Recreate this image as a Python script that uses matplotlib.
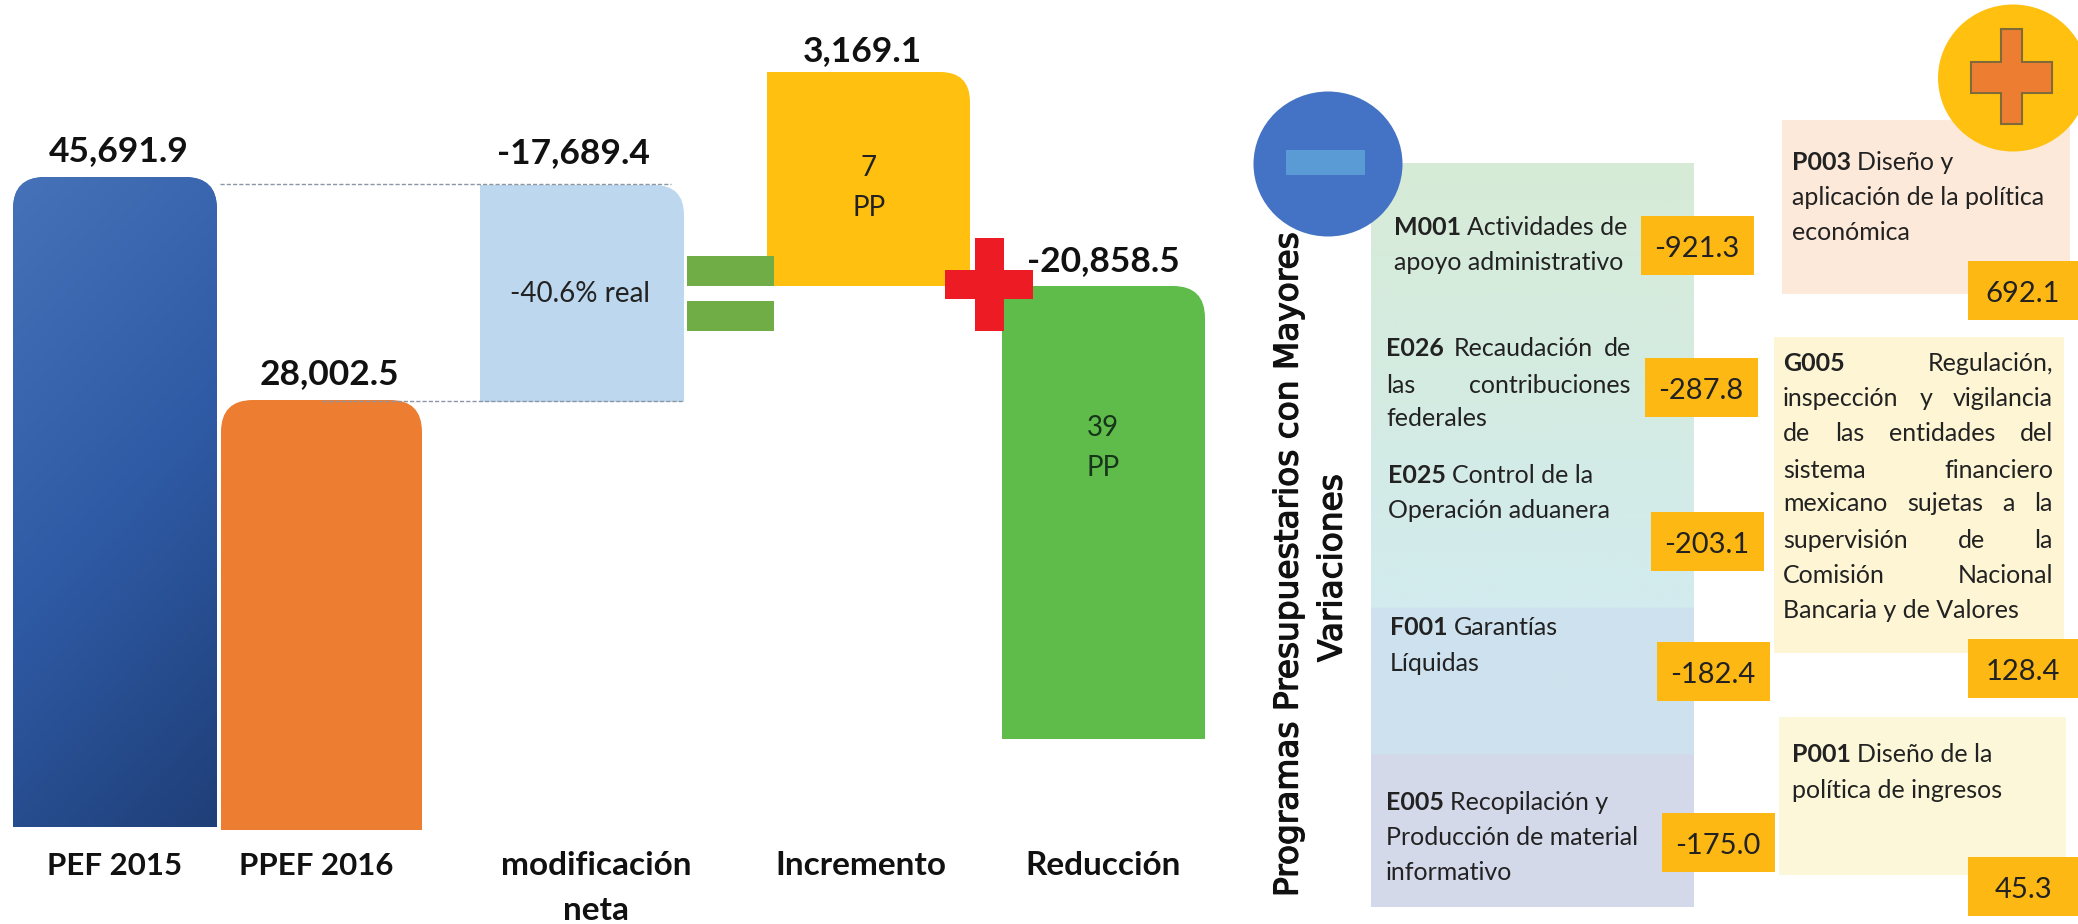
#!/usr/bin/env python3
"""Presupuesto PEF 2015 / PPEF 2016: barras y programas con mayores variaciones."""
import numpy as np
import matplotlib
matplotlib.use("Agg")
import matplotlib.patheffects as pe
import matplotlib.pyplot as plt
from matplotlib.colors import LinearSegmentedColormap
from matplotlib.patches import Ellipse, PathPatch, Rectangle
from matplotlib.path import Path

plt.rcParams["font.family"] = ["Lato", "DejaVu Sans"]

# barras (la altura no es proporcional al valor)
categorias = [["PEF 2015"], ["PPEF 2016"], ["modificación", "neta"], ["Incremento"], ["Reducción"]]
categoria_x = [115, 316, 596, 861, 1103]
categoria_pt = [22.5, 22.5, 24, 24, 24]
valores = ["45,691.9", "28,002.5", "-17,689.4", "3,169.1", "-20,858.5"]
valor_x = [119, 329, 573, 862, 1103]
valor_y = [161, 384, 163, 61, 271]
bar_izq = [13, 221, 480, 767, 1002]
bar_der = [217, 422, 684, 970, 1205]
bar_top = [177, 400, 185, 72, 286]
bar_base = [827, 830, 402, 286, 739]
bar_color = ["#3a66ae", "#ed7d31", "#bdd7ee", "#ffc010", "#5fbb4a"]
radio_izq = [32, 32, 0, 0, 0]
radio_der = [32, 32, 30, 30, 32]

# programas con reduccion
neg_lineas = [
    [[("M001", 1), ("Actividades de", 0)], [("apoyo administrativo", 0)]],
    [[("E026", 1), ("Recaudación", 0), ("de", 0)], [("las", 0), ("contribuciones", 0)], [("federales", 0)]],
    [[("E025", 1), ("Control de la", 0)], [("Operación aduanera", 0)]],
    [[("F001", 1), ("Garantías", 0)], [("Líquidas", 0)]],
    [[("E005", 1), ("Recopilación y", 0)], [("Producción de material", 0)], [("informativo", 0)]],
]
neg_x = [1394, 1386, 1388, 1390, 1386]
neg_y = [[235, 270], [356, 393, 426], [483, 518], [635, 671], [810, 845, 880]]
neg_just = [None, 1631, None, None, None]
neg_valores = ["-921.3", "-287.8", "-203.1", "-182.4", "-175.0"]
neg_caja_x = [1641, 1645, 1651, 1657, 1662]
neg_caja_y = [216, 358, 512, 642, 813]

# programas con aumento
pos_lineas = [
    [[("P003", 1), ("Diseño y", 0)], [("aplicación de la política", 0)], [("económica", 0)]],
    [[("G005", 1), ("Regulación,", 0)], [("inspección", 0), ("y", 0), ("vigilancia", 0)],
     [("de", 0), ("las", 0), ("entidades", 0), ("del", 0)], [("sistema", 0), ("financiero", 0)],
     [("mexicano", 0), ("sujetas", 0), ("a", 0), ("la", 0)], [("supervisión", 0), ("de", 0), ("la", 0)],
     [("Comisión", 0), ("Nacional", 0)], [("Bancaria y de Valores", 0)]],
    [[("P001", 1), ("Diseño de la", 0)], [("política de ingresos", 0)]],
]
pos_x = [1792, 1783, 1792]
pos_y = [[170, 205, 240], [371, 406, 441, 478, 511, 548, 583, 618], [762, 798]]
pos_just = [None, 2053, None]
pos_valores = ["692.1", "128.4", "45.3"]
pos_caja_y = [261, 639, 857]
pos_fondo = [(1782, 120, 2070, 294, "#fce9d9"), (1774, 337, 2064, 653, "#fdf5d3"), (1779, 717, 2066, 875, "#fbf7d8")]

NARANJA = "#fdb813"
TEXTO = "#222222"

fig = plt.figure(figsize=(20.78, 9.24), dpi=100)
ax = fig.add_axes([0, 0, 1, 1])
renderer = fig.canvas.get_renderer()


def fija_limites():
    # imshow cambia los limites, hay que volver a pixeles
    ax.set_xlim(0, 2078)
    ax.set_ylim(924, 0)


fija_limites()
ax.axis("off")


def barra(x0, x1, top, base, r0, r1, color, z=2):
    verts = [(x0, base), (x0, top + r0), (x0, top), (x0 + r0, top), (x1 - r1, top), (x1, top), (x1, top + r1),
             (x1, base), (x0, base)]
    codes = [Path.MOVETO, Path.LINETO, Path.CURVE3, Path.CURVE3, Path.LINETO, Path.CURVE3, Path.CURVE3,
             Path.LINETO, Path.CLOSEPOLY]
    p = PathPatch(Path(verts, codes), fc=color, ec="none", zorder=z)
    ax.add_patch(p)
    return p


def rect(x0, y0, x1, y1, color, z=3, ec="none", lw=0):
    ax.add_patch(Rectangle((x0, y0), x1 - x0, y1 - y0, fc=color, ec=ec, lw=lw, zorder=z))


def linea(runs, x, y, x_fin=None, size=18):
    """Escribe palabras con o sin negrita; si hay x_fin, justifica la linea."""
    textos = [ax.text(x, y, w, fontsize=size, fontweight="bold" if b else "normal", color=TEXTO,
                      va="baseline", ha="left", zorder=6) for w, b in runs]
    anchos = [t.get_window_extent(renderer).width for t in textos]
    if x_fin is not None and len(runs) > 1:
        gap = (x_fin - x - sum(anchos)) / (len(runs) - 1)
    else:
        gap = 6
    for t, w in zip(textos, anchos):
        t.set_x(x)
        x += w + gap


# barras
for i in range(5):
    p = barra(bar_izq[i], bar_der[i], bar_top[i], bar_base[i], radio_izq[i], radio_der[i], bar_color[i])
    if i == 0:
        grad = np.linspace(0, 1, 256)[:, None] * 0.75 + np.linspace(0, 1, 64)[None, :] * 0.25
        cmap = LinearSegmentedColormap.from_list("azul", ["#4572b8", "#2f5ba6", "#1f3f78"])
        im = ax.imshow(grad, cmap=cmap, extent=(bar_izq[0], bar_der[0], bar_base[0], bar_top[0]),
                       aspect="auto", zorder=2)
        im.set_clip_path(p)
    ax.text(valor_x[i], valor_y[i], valores[i], fontsize=25.5, fontweight="bold", color="#111111",
            ha="center", va="baseline", zorder=6)
    for j, t in enumerate(categorias[i]):
        ax.text(categoria_x[i], 875 + 45 * j, t, fontsize=categoria_pt[i], fontweight="bold", color="#111111",
                ha="center", va="baseline", zorder=6)
fija_limites()

# lineas punteadas entre barras
ax.plot([220, 671], [184, 184], ls=(0, (3, 1.5)), color="#8a96a5", lw=1, zorder=4)
ax.plot([322, 682], [401, 401], ls=(0, (3, 1.5)), color="#8a96a5", lw=1, zorder=4)

# textos dentro de las barras
ax.text(580, 302, "-40.6% real", fontsize=20, color=TEXTO, ha="center", va="baseline", zorder=6)
ax.text(869, 176, "7", fontsize=20, color=TEXTO, ha="center", va="baseline", zorder=6)
ax.text(869, 216, "PP", fontsize=20, color=TEXTO, ha="center", va="baseline", zorder=6)
ax.text(1103, 436, "39", fontsize=20, color="#17351a", ha="center", va="baseline", zorder=6)
ax.text(1103, 476, "PP", fontsize=20, color="#17351a", ha="center", va="baseline", zorder=6)

# signos igual y mas
rect(687, 256, 774, 286, "#70ad47", z=4)
rect(687, 301, 774, 331, "#70ad47", z=4)
rect(945, 270, 1033, 299, "#ed1c24", z=5)
rect(975, 238, 1004, 331, "#ed1c24", z=5)

# columna izquierda de programas
fondo = LinearSegmentedColormap.from_list("fondo", [
    (0, "#d7ebd6"), (0.597, "#d2ebee"), (0.597, "#cde1ee"), (0.795, "#cfe2ee"), (0.795, "#d4d9ea"), (1, "#d4d9ea")],
    N=512)
ax.imshow(np.linspace(0, 1, 512)[:, None], cmap=fondo, extent=(1371, 1694, 907, 163), aspect="auto", zorder=1)
fija_limites()

# circulos
ax.add_patch(Ellipse((1328, 164), 149, 145, fc="#4472c4", ec="none", zorder=5))
rect(1286, 150, 1365, 175, "#5b9bd5", z=6)
ax.add_patch(Ellipse((2013, 78), 150, 147, fc="#ffc010", ec="none", zorder=5))
rect(1971, 62, 2052, 93, "#ed7d31", z=6, ec="#7f6a3a", lw=1.5)
rect(2001, 29, 2022, 124, "#ed7d31", z=6, ec="#7f6a3a", lw=1.5)
rect(1972, 63, 2051, 92, "#ed7d31", z=6)

# titulo vertical
grueso = [pe.withStroke(linewidth=0.9, foreground="#111111")]
ax.text(1288, 897, "Programas Presupuestarios con Mayores", fontsize=23.6, family="DejaVu Sans", color="#111111",
        rotation=90, ha="center", va="bottom", zorder=4, path_effects=grueso)
ax.text(1332, 662, "Variaciones", fontsize=23.6, family="DejaVu Sans", color="#111111",
        rotation=90, ha="center", va="bottom", zorder=4, path_effects=grueso)

# reducciones
for i in range(5):
    for runs, y in zip(neg_lineas[i], neg_y[i]):
        linea(runs, neg_x[i], y, neg_just[i])
    rect(neg_caja_x[i], neg_caja_y[i], neg_caja_x[i] + 113, neg_caja_y[i] + 59, NARANJA, z=5)
    ax.text(neg_caja_x[i] + 56, neg_caja_y[i] + 41, neg_valores[i], fontsize=21, color=TEXTO, ha="center",
            va="baseline", zorder=6)

# aumentos
for i in range(3):
    x0, y0, x1, y1, c = pos_fondo[i]
    rect(x0, y0, x1, y1, c, z=1)
    for runs, y in zip(pos_lineas[i], pos_y[i]):
        linea(runs, pos_x[i], y, pos_just[i])
    rect(1968, pos_caja_y[i], 2078, pos_caja_y[i] + 59, NARANJA, z=5)
    ax.text(2023, pos_caja_y[i] + 41, pos_valores[i], fontsize=21, color=TEXTO, ha="center", va="baseline", zorder=6)

fig.savefig("out.png", dpi=100, facecolor="white")
